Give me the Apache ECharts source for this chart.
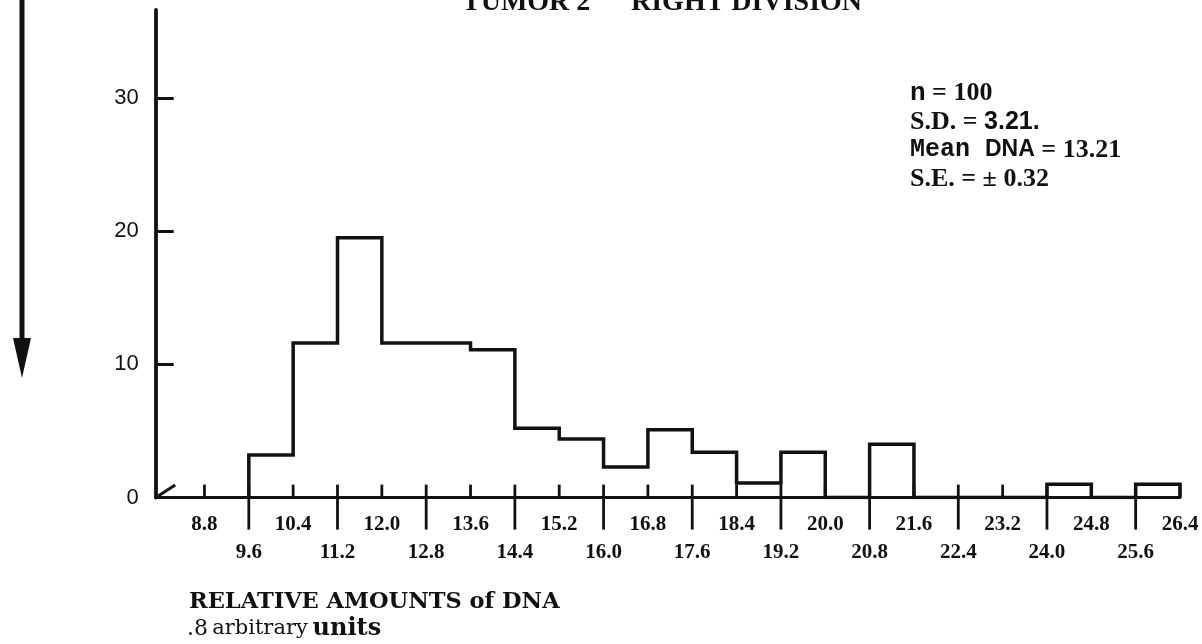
<!DOCTYPE html>
<html>
<head>
<meta charset="utf-8">
<script src="https://cdn.jsdelivr.net/npm/echarts@6/dist/echarts.min.js"></script>
<style>
  html, body { margin: 0; padding: 0; background: #ffffff; }
  #chart { width: 1202px; height: 644px; }
</style>
</head>
<body>
<div id="chart"></div>
<script>
// DNA content histogram, tumor 2 right division.
// Lower edge of each 0.8-unit bin and the number of nuclei in that bin.
const binStarts = [9.6, 10.4, 11.2, 12.0, 12.8, 13.6, 14.4, 15.2, 16.0, 16.8, 17.6,
                   18.4, 19.2, 20.0, 20.8, 21.6, 22.4, 23.2, 24.0, 24.8, 25.6];
const counts    = [3.2, 11.6, 19.5, 11.6, 11.6, 11.1, 5.2, 4.4, 2.3, 5.1, 3.4,
                   1.1, 3.4, 0, 4.0, 0, 0, 0, 1.0, 0, 1.0];
const binWidth = 0.8;

// x-axis labels, set in two staggered rows
const upperLabels = ['8.8', '10.4', '12.0', '13.6', '15.2', '16.8', '18.4', '20.0', '21.6', '23.2', '24.8', '26.4'];
const lowerLabels = ['9.6', '11.2', '12.8', '14.4', '16.0', '17.6', '19.2', '20.8', '22.4', '24.0', '25.6'];

// y-axis labels and ticks
const yLabels = [0, 10, 20, 30];
const yTicks = [10, 20, 30];

const xMin = 7.92, xMax = 26.4, yMax = 36.6;

// outline of the histogram as a stepped polyline
const stepData = [[binStarts[0], 0]];
binStarts.forEach((b, i) => stepData.push([b, counts[i]]));
stepData.push([binStarts[binStarts.length - 1] + binWidth, 0]);

// tick marks with their labels (row 0 = upper, row 1 = lower)
const tickItems = upperLabels.map(s => ({ value: [parseFloat(s), 0], label: s }))
  .concat(lowerLabels.map(s => ({ value: [parseFloat(s), 1], label: s })));

const INK = '#111111';
const SERIF = '"Liberation Serif", "Times New Roman", serif';
const WIDE_SERIF = '"DejaVu Serif", serif';
const SANS = '"Liberation Sans", Arial, sans-serif';
const MONO = '"Liberation Mono", "Courier New", monospace';

const chart = echarts.init(document.getElementById('chart'), null, { renderer: 'canvas' });

chart.setOption({
  animation: false,
  backgroundColor: '#ffffff',
  grid: { left: 155.7, right: 22, top: 10, bottom: 146.4, containLabel: false, outerBoundsMode: 'none' },
  xAxis: {
    type: 'value', min: xMin, max: xMax,
    axisLine: { show: true, onZero: true, lineStyle: { color: INK, width: 2.8 } },
    axisTick: { show: false },
    axisLabel: { show: false },
    splitLine: { show: false }
  },
  yAxis: {
    type: 'value', min: 0, max: yMax, interval: 10,
    axisLine: { show: true, lineStyle: { color: INK, width: 3.8 } },
    axisTick: { show: true, inside: true, length: 18, customValues: yTicks, lineStyle: { color: INK, width: 3 } },
    axisLabel: { customValues: yLabels, color: INK, fontFamily: SANS, fontSize: 22, margin: 17 },
    splitLine: { show: false }
  },
  series: [
    {
      name: 'counts',
      type: 'line',
      step: 'end',
      data: stepData,
      symbol: 'none',
      lineStyle: { color: INK, width: 3.5, join: 'miter' },
      z: 5,
      silent: true
    },
    {
      name: 'x ticks',
      type: 'custom',
      coordinateSystem: 'cartesian2d',
      data: tickItems,
      clip: false,
      silent: true,
      z: 4,
      renderItem: function (params, api) {
        const v = api.value(0);
        const row = api.value(1);
        const p = api.coord([v, 0]);
        const item = tickItems[params.dataIndex];
        const y1 = p[1] - 13;
        const y2 = row ? p[1] + 32 : p[1];
        return {
          type: 'group',
          children: [
            { type: 'line', shape: { x1: p[0], y1: y1, x2: p[0], y2: y2 },
              style: { stroke: INK, lineWidth: 2.8 } },
            { type: 'text',
              style: { text: item.label, x: p[0], y: p[1] + (row ? 55 : 27),
                       align: 'center', verticalAlign: 'middle',
                       font: 'bold 21px ' + SERIF, fill: INK } }
          ]
        };
      }
    },
    {
      name: 'origin',
      type: 'custom',
      coordinateSystem: 'cartesian2d',
      data: [[xMin, 0]],
      clip: false,
      silent: true,
      renderItem: function (params, api) {
        const p = api.coord([api.value(0), api.value(1)]);
        return { type: 'line', shape: { x1: p[0] + 2.5, y1: p[1] - 1.5, x2: p[0] + 19.5, y2: p[1] - 12.5 },
                 style: { stroke: INK, lineWidth: 3 } };
      }
    }
  ],
  graphic: [
    // downward arrow at the left margin
    { type: 'line', shape: { x1: 22, y1: 0, x2: 22, y2: 345 }, style: { stroke: INK, lineWidth: 5 } },
    { type: 'polygon', shape: { points: [[13, 338], [31, 338], [22, 378]] }, style: { fill: INK } },
    // heading
    { type: 'text', x: 462, y: 3,
      style: { text: 'TUMOR 2', font: 'bold 28px ' + SERIF, fill: INK, verticalAlign: 'middle' } },
    { type: 'text', x: 631, y: 3,
      style: { text: 'RIGHT DIVISION', font: 'bold 28px ' + SERIF, fill: INK, verticalAlign: 'middle' } },
    // summary statistics
    { type: 'text', x: 910, y: 93,
      style: { text: '{c|n}{t| = 100}', verticalAlign: 'middle',
               rich: { c: { font: 'bold 26px ' + MONO, fill: INK }, t: { font: 'bold 26px ' + SERIF, fill: INK } } } },
    { type: 'text', x: 910, y: 122,
      style: { text: '{t|S.D. = }{a|3.21.}', verticalAlign: 'middle',
               rich: { t: { font: 'bold 26px ' + SERIF, fill: INK }, a: { font: 'bold 25px ' + SANS, fill: INK } } } },
    { type: 'text', x: 910, y: 150,
      style: { text: '{c|Mean }{a|DNA}{t| = 13.21}', verticalAlign: 'middle',
               rich: { c: { font: 'bold 25px ' + MONO, fill: INK }, a: { font: 'bold 23px ' + SANS, fill: INK },
                       t: { font: 'bold 26px ' + SERIF, fill: INK } } } },
    { type: 'text', x: 910, y: 179,
      style: { text: '{t|S.E. = ± 0.32}', verticalAlign: 'middle',
               rich: { t: { font: 'bold 26px ' + SERIF, fill: INK } } } },
    // axis caption
    { type: 'text', x: 189, y: 602.5,
      style: { text: 'RELATIVE AMOUNTS of DNA', font: 'bold 22.5px ' + WIDE_SERIF, fill: INK,
               verticalAlign: 'middle' } },
    { type: 'text', x: 187, y: 629,
      style: { text: '{a|.8}{b|\u2009arbitrary}{c|\u2009units}', verticalAlign: 'middle',
               rich: { a: { font: '22px ' + WIDE_SERIF, fill: INK }, b: { font: '21px ' + WIDE_SERIF, fill: INK },
                       c: { font: 'bold 24px ' + WIDE_SERIF, fill: INK } } } }
  ]
});
</script>
</body>
</html>
